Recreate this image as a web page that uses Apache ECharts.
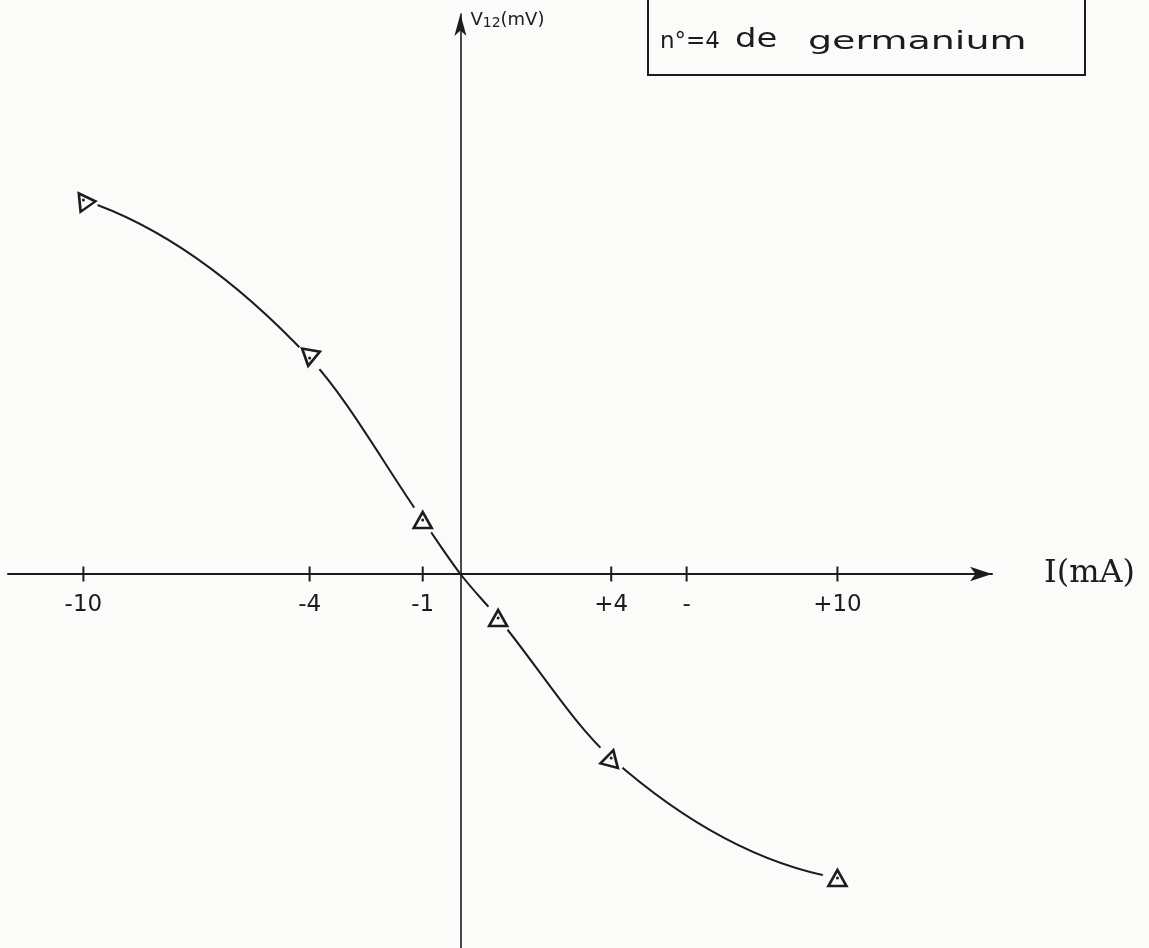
<!DOCTYPE html>
<html>
<head>
<meta charset="utf-8">
<title>V12 en fonction de I — n°4 de germanium</title>
<script src="https://cdn.jsdelivr.net/npm/echarts@6/dist/echarts.min.js"></script>
<style>
  html, body { margin: 0; padding: 0; background: #fbfbf9; }
  #chart { width: 1149px; height: 948px; }
</style>
</head>
<body>
<div id="chart"></div>
<script>
// Courant I (mA) et tension V12 (mV) mesurés
const currentMA = [-10, -4, -1, 1, 4, 10];
const voltageMV = [37.4, 21.6, 5.4, -4.4, -18.4, -30.4];

// La courbe tracée passe par l'origine
const curveI = [-10, -4, -1, 0, 1, 4, 10];
const curveV = [37.4, 21.6, 5.4, 0, -4.4, -18.4, -30.4];

// Graduations de l'axe des courants
const tickValues = [-10, -4, -1, 4, 6, 10];
const tickLabels = ['-10', '-4', '-1', '+4', '-', '+10'];

// Inclinaison des triangles tracés à la main (degrés)
const markerTilt = [35, 170, 0, 0, -15, 0];

const INK = '#1c1c1c';
const PAPER = '#fbfbf9';
const HAND = '"DejaVu Sans", "Liberation Sans", sans-serif';

const points = currentMA.map((x, i) => [x, voltageMV[i]]);
const curve = curveI.map((x, i) => [x, curveV[i]]);
const ticks = tickValues.map(v => [v, 0]);

// Spline de Hermite : pente moyenne aux points intérieurs, extrémités paraboliques
function hermiteSegment(params, api) {
  const i = params.dataIndex;
  if (i >= curve.length - 1) return null;
  const p = curve.map(v => api.coord(v));
  const n = p.length - 1;
  const s = [];
  for (let k = 0; k < n; k++) s.push((p[k + 1][1] - p[k][1]) / (p[k + 1][0] - p[k][0]));
  const m = [];
  for (let k = 1; k < n; k++) m[k] = (s[k - 1] + s[k]) / 2;
  m[0] = 2 * s[0] - m[1];
  m[n] = 2 * s[n - 1] - m[n - 1];
  const a = p[i], b = p[i + 1];
  const h = (b[0] - a[0]) / 3;
  return {
    type: 'bezierCurve',
    shape: {
      x1: a[0], y1: a[1], x2: b[0], y2: b[1],
      cpx1: a[0] + h, cpy1: a[1] + m[i] * h,
      cpx2: b[0] - h, cpy2: b[1] - m[i + 1] * h
    },
    style: { fill: 'none', stroke: INK, lineWidth: 2 }
  };
}

const chart = echarts.init(document.getElementById('chart'), null, { renderer: 'canvas' });

chart.setOption({
  backgroundColor: PAPER,
  animation: false,
  grid: {
    left: 8, right: 157, top: 14, bottom: 0,
    containLabel: false,
    outerBoundsMode: 'none'
  },
  xAxis: {
    type: 'value',
    min: -12,
    max: 14.1,
    splitLine: { show: false },
    axisTick: { show: false },
    axisLabel: { show: false },
    axisLine: {
      onZero: true,
      symbol: ['none', 'arrow'],
      symbolSize: [11, 22],
      lineStyle: { color: INK, width: 2 }
    },
    name: 'I(mA)',
    nameLocation: 'end',
    nameGap: 52,
    nameTextStyle: {
      color: INK,
      fontFamily: '"DejaVu Serif", "Liberation Serif", serif',
      fontSize: 32,
      padding: [20, 0, 0, 0]
    }
  },
  yAxis: {
    type: 'value',
    min: -37.4,
    max: 56,
    splitLine: { show: false },
    axisTick: { show: false },
    axisLabel: { show: false },
    axisLine: {
      onZero: true,
      symbol: ['none', 'arrow'],
      symbolSize: [9, 22],
      lineStyle: { color: INK, width: 1.6 }
    },
    name: 'V{s|12}(mV)',
    nameLocation: 'end',
    nameGap: -6,
    nameTextStyle: {
      color: INK,
      fontFamily: HAND,
      fontSize: 18,
      align: 'left',
      verticalAlign: 'middle',
      padding: [0, 0, 0, 10],
      rich: {
        s: { fontFamily: HAND, fontSize: 14, color: INK, padding: [6, 0, 0, 0] }
      }
    }
  },
  series: [
    {
      // courbe lissée reliant les mesures
      type: 'custom',
      data: curve,
      encode: { x: 0, y: 1 },
      renderItem: hermiteSegment,
      silent: true,
      z: 2
    },
    {
      // graduations croisant l'axe, avec leurs valeurs
      type: 'scatter',
      data: ticks,
      symbol: 'rect',
      symbolSize: [2, 15],
      itemStyle: { color: INK, opacity: 1 },
      label: {
        show: true,
        position: 'bottom',
        distance: 12,
        formatter: p => tickLabels[p.dataIndex],
        color: INK,
        fontFamily: HAND,
        fontSize: 23
      },
      silent: true,
      z: 2
    },
    {
      // espace laissé autour de chaque point
      type: 'scatter',
      data: points,
      symbol: 'circle',
      symbolSize: 30,
      itemStyle: { color: PAPER, opacity: 1 },
      silent: true,
      z: 3
    },
    {
      // points de mesure (triangles)
      type: 'scatter',
      data: points.map((p, i) => ({ value: p, symbolRotate: markerTilt[i] })),
      symbol: 'triangle',
      symbolSize: [18, 16],
      itemStyle: { color: PAPER, borderColor: INK, borderWidth: 2.6, opacity: 1 },
      z: 4
    },
    {
      type: 'scatter',
      data: points,
      symbol: 'circle',
      symbolSize: 3,
      itemStyle: { color: INK, opacity: 1 },
      silent: true,
      z: 5
    }
  ],
  graphic: [
    {
      type: 'rect',
      shape: { x: 648, y: -10, width: 437, height: 85 },
      style: { fill: 'none', stroke: INK, lineWidth: 2 }
    },
    {
      type: 'text',
      x: 660, y: 42,
      style: { text: 'n°=4', fill: INK, font: '23px ' + HAND, verticalAlign: 'middle' }
    },
    {
      type: 'text',
      x: 735, y: 40, scaleX: 1.3,
      style: { text: 'de', fill: INK, font: '26px ' + HAND, verticalAlign: 'middle' }
    },
    {
      type: 'text',
      x: 808, y: 42, scaleX: 1.52,
      style: { text: 'germanium', fill: INK, font: '25px ' + HAND, verticalAlign: 'middle' }
    }
  ]
});
</script>
</body>
</html>
